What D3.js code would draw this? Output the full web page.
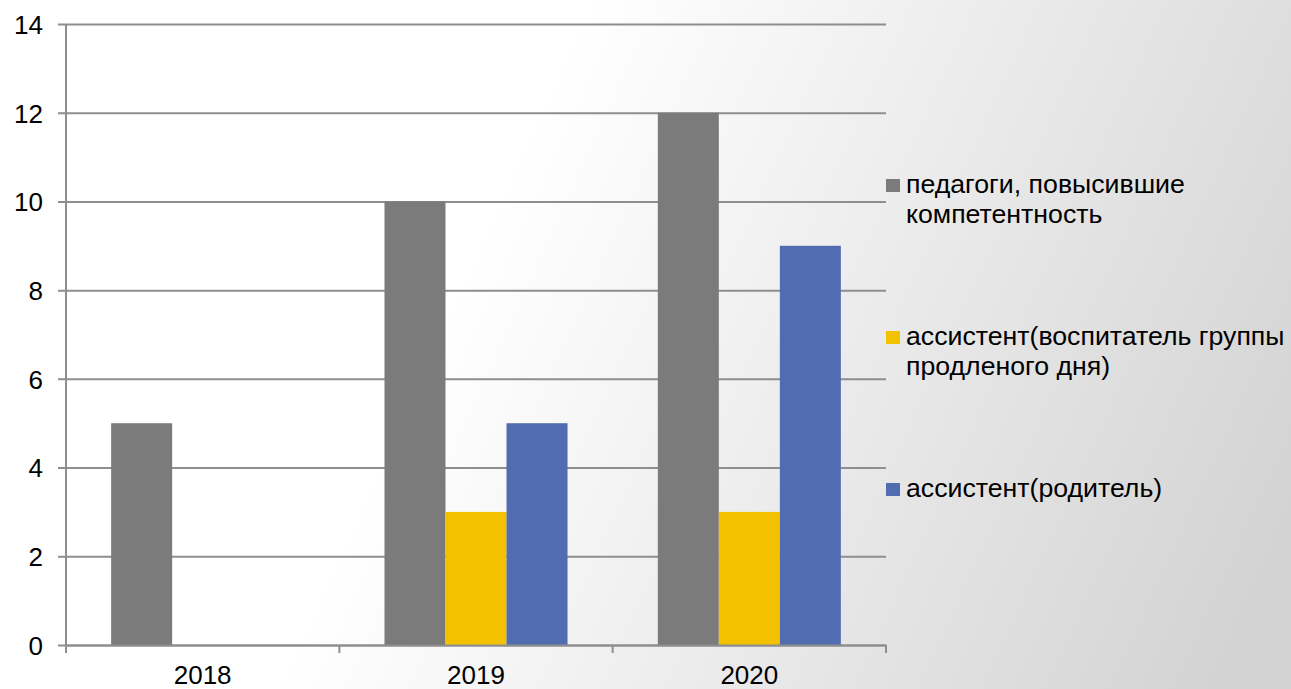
<!DOCTYPE html>
<html>
<head>
<meta charset="utf-8">
<script src="https://cdn.jsdelivr.net/npm/d3@7"></script>
<style>
  html, body { margin: 0; padding: 0; }
  body { width: 1291px; height: 689px; overflow: hidden; }
  text { font-family: "Liberation Sans", Arial, sans-serif; fill: #000; }
</style>
</head>
<body>
<script>
// chart data
const years = ['2018', '2019', '2020'];
const seriesNames = [
  ['педагоги, повысившие', 'компетентность'],
  ['ассистент(воспитатель группы', 'продленого дня)'],
  ['ассистент(родитель)']
];
const teachers = [5, 10, 12];
const assistantTutor = [0, 3, 3];
const assistantParent = [0, 5, 9];
const yTicks = [0, 2, 4, 6, 8, 10, 12, 14];
const colors = ['#7b7b7b', '#f2c200', '#516cb0'];

const width = 1291;
const height = 689;
const plot = { left: 66, right: 886, top: 24, bottom: 645 };

const svg = d3.select('body')
  .append('svg')
  .attr('width', width)
  .attr('height', height);

// background gradient, white on the left fading to grey at the right
const grad = svg.append('defs').append('linearGradient')
  .attr('id', 'bg')
  .attr('gradientUnits', 'userSpaceOnUse')
  .attr('x1', 500).attr('y1', 200)
  .attr('x2', 1291).attr('y2', 560);
grad.append('stop').attr('offset', 0).attr('stop-color', '#ffffff');
grad.append('stop').attr('offset', 1).attr('stop-color', '#d2d2d2');

svg.append('rect')
  .attr('width', width)
  .attr('height', height)
  .attr('fill', 'url(#bg)');

const x = d3.scaleBand()
  .domain(years)
  .range([plot.left, plot.right]);

const series = [teachers, assistantTutor, assistantParent];
const xInner = d3.scaleBand()
  .domain(d3.range(series.length))
  .range([0, x.bandwidth()])
  .paddingOuter(0.74);

const y = d3.scaleLinear()
  .domain([0, 14])
  .range([plot.bottom, plot.top]);

// horizontal gridlines with tick stubs on the left
const yAxis = d3.axisLeft(y)
  .tickValues(yTicks)
  .tickSize(-(plot.right - plot.left))
  .tickSizeOuter(0)
  .tickPadding(23)
  .tickFormat(d3.format('d'));

const gy = svg.append('g')
  .attr('transform', `translate(${plot.left},0)`)
  .call(yAxis);
gy.select('.domain').remove();
gy.selectAll('.tick line')
  .attr('x1', -8)
  .attr('stroke', '#8e8e8e')
  .attr('stroke-width', 2);
gy.selectAll('.tick text')
  .style('font-size', '26px')
  .attr('dy', '0.36em');

// bars
const rows = [];
series.forEach((vals, s) => {
  vals.forEach((v, i) => rows.push({ year: years[i], s: s, v: v }));
});

svg.append('g')
  .selectAll('rect')
  .data(rows.filter(d => d.v > 0))
  .join('rect')
  .attr('x', d => x(d.year) + xInner(d.s))
  .attr('y', d => y(d.v))
  .attr('width', xInner.bandwidth())
  .attr('height', d => y(0) - y(d.v))
  .attr('fill', d => colors[d.s]);

// vertical axis line
svg.append('line')
  .attr('x1', plot.left).attr('x2', plot.left)
  .attr('y1', plot.top).attr('y2', plot.bottom + 1)
  .attr('stroke', '#8e8e8e')
  .attr('stroke-width', 2);

// category axis
const xAxis = d3.axisBottom(x)
  .tickSize(0);

const gx = svg.append('g')
  .attr('transform', `translate(0,${plot.bottom})`)
  .call(xAxis);
gx.select('.domain')
  .attr('stroke', '#8e8e8e')
  .attr('stroke-width', 2);
gx.selectAll('.tick text')
  .style('font-size', '26px')
  .attr('y', 39)
  .attr('dy', 0);

// boundary ticks between categories
const bounds = years.map(d => x(d)).concat([plot.right]);
gx.append('g')
  .selectAll('line')
  .data(bounds)
  .join('line')
  .attr('x1', d => d).attr('x2', d => d)
  .attr('y1', 0).attr('y2', 8)
  .attr('stroke', '#8e8e8e')
  .attr('stroke-width', 2);

// legend
const legendY = [193, 345, 497];
const legend = svg.append('g');
seriesNames.forEach((lines, i) => {
  legend.append('rect')
    .attr('x', 886)
    .attr('y', legendY[i] - 14)
    .attr('width', 14)
    .attr('height', 13)
    .attr('fill', colors[i]);
  const t = legend.append('text')
    .attr('x', 906)
    .attr('y', legendY[i])
    .style('font-size', '26.7px');
  lines.forEach((line, j) => {
    t.append('tspan')
      .attr('x', 906)
      .attr('dy', j === 0 ? 0 : 30)
      .text(line);
  });
});
</script>
</body>
</html>
